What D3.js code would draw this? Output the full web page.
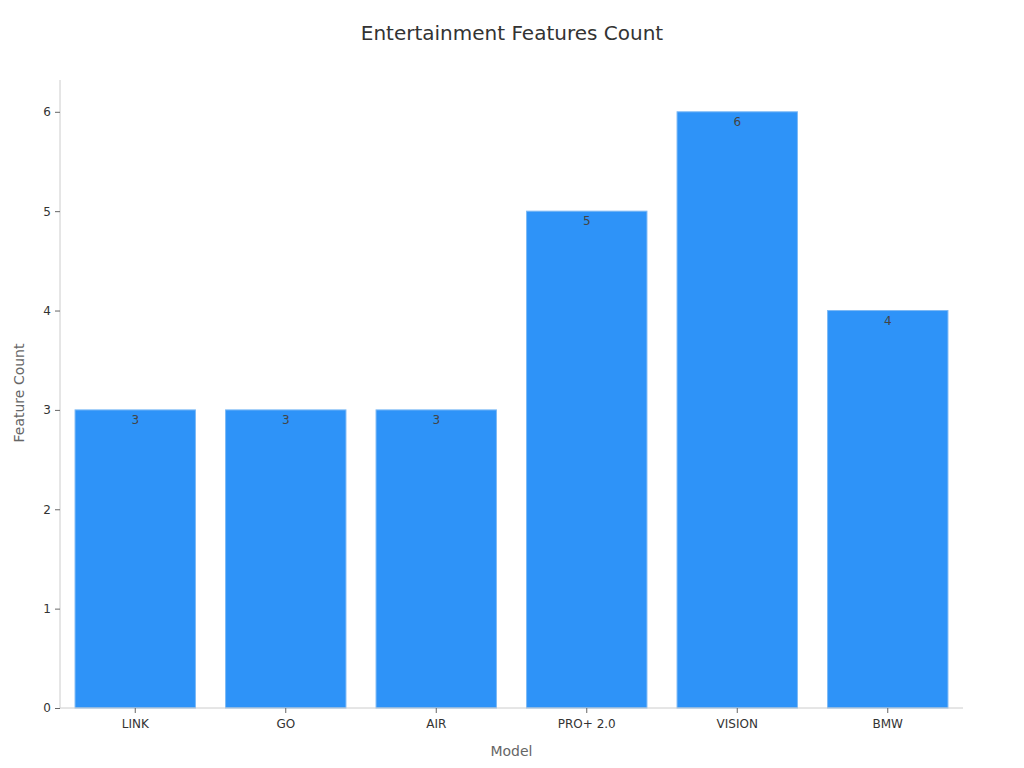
<!DOCTYPE html>
<html><head><meta charset="utf-8">
<script src="https://cdn.jsdelivr.net/npm/d3@7"></script>
<style>body{margin:0;background:#fff;font-family:"DejaVu Sans",sans-serif;}</style>
</head><body>
<svg id="c" width="1024" height="768"></svg>
<script>
const categories = ["LINK","GO","AIR","PRO+ 2.0","VISION","BMW"];
const values = [3,3,3,5,6,4];
const yTicks = [0,1,2,3,4,5,6];
const title = "Entertainment Features Count";
const xTitle = "Model";
const yTitle = "Feature Count";

const svg = d3.select("#c");
const m = {l:60, r:61, t:80, b:60};
const W = 1024, H = 768;
const x = d3.scaleBand().domain(categories).range([m.l, W-m.r]).paddingInner(0.2).paddingOuter(0.1);
const y = d3.scaleLinear().domain([0,6.32]).range([H-m.b, m.t]);

svg.append("text").attr("x",512).attr("y",40).attr("text-anchor","middle")
  .attr("font-size",20).attr("fill","#333").text(title);

svg.append("g").selectAll("rect").data(values).join("rect")
  .attr("x",(d,i)=>x(categories[i])).attr("width",x.bandwidth())
  .attr("y",d=>y(d)).attr("height",d=>y(0)-y(d))
  .attr("fill","#2E93F8").attr("stroke","#7DB9F5").attr("stroke-width",1);

svg.append("g").selectAll("text").data(values).join("text")
  .attr("x",(d,i)=>x(categories[i])+x.bandwidth()/2).attr("y",d=>y(d)+14)
  .attr("text-anchor","middle").attr("font-size",12).attr("fill","#444").text(d=>d);

const ya = svg.append("g").attr("transform",`translate(${m.l},0)`)
  .call(d3.axisLeft(y).tickValues(yTicks).tickFormat(d3.format("d")).tickSize(5).tickPadding(4));
ya.select(".domain").attr("stroke","#ccc").attr("d",`M0,${m.t}V${H-m.b}`);
ya.selectAll(".tick line").attr("stroke","#666");
ya.selectAll(".tick text").attr("fill","#333").attr("font-size",12).attr("font-family","DejaVu Sans");

const xa = svg.append("g").attr("transform",`translate(0,${H-m.b})`)
  .call(d3.axisBottom(x).tickSize(5).tickPadding(6));
xa.select(".domain").attr("stroke","#ccc").attr("d",`M${m.l},0H${W-m.r}`);
xa.selectAll(".tick line").attr("stroke","#666");
xa.selectAll(".tick text").attr("fill","#333").attr("font-size",12).attr("font-family","DejaVu Sans");

svg.append("text").attr("x",(m.l+W-m.r)/2).attr("y",756).attr("text-anchor","middle")
  .attr("font-size",14).attr("fill","#666").text(xTitle);
svg.append("text").attr("transform",`translate(24,393) rotate(-90)`).attr("text-anchor","middle")
  .attr("font-size",14).attr("fill","#666").text(yTitle);
</script>
</body></html>
